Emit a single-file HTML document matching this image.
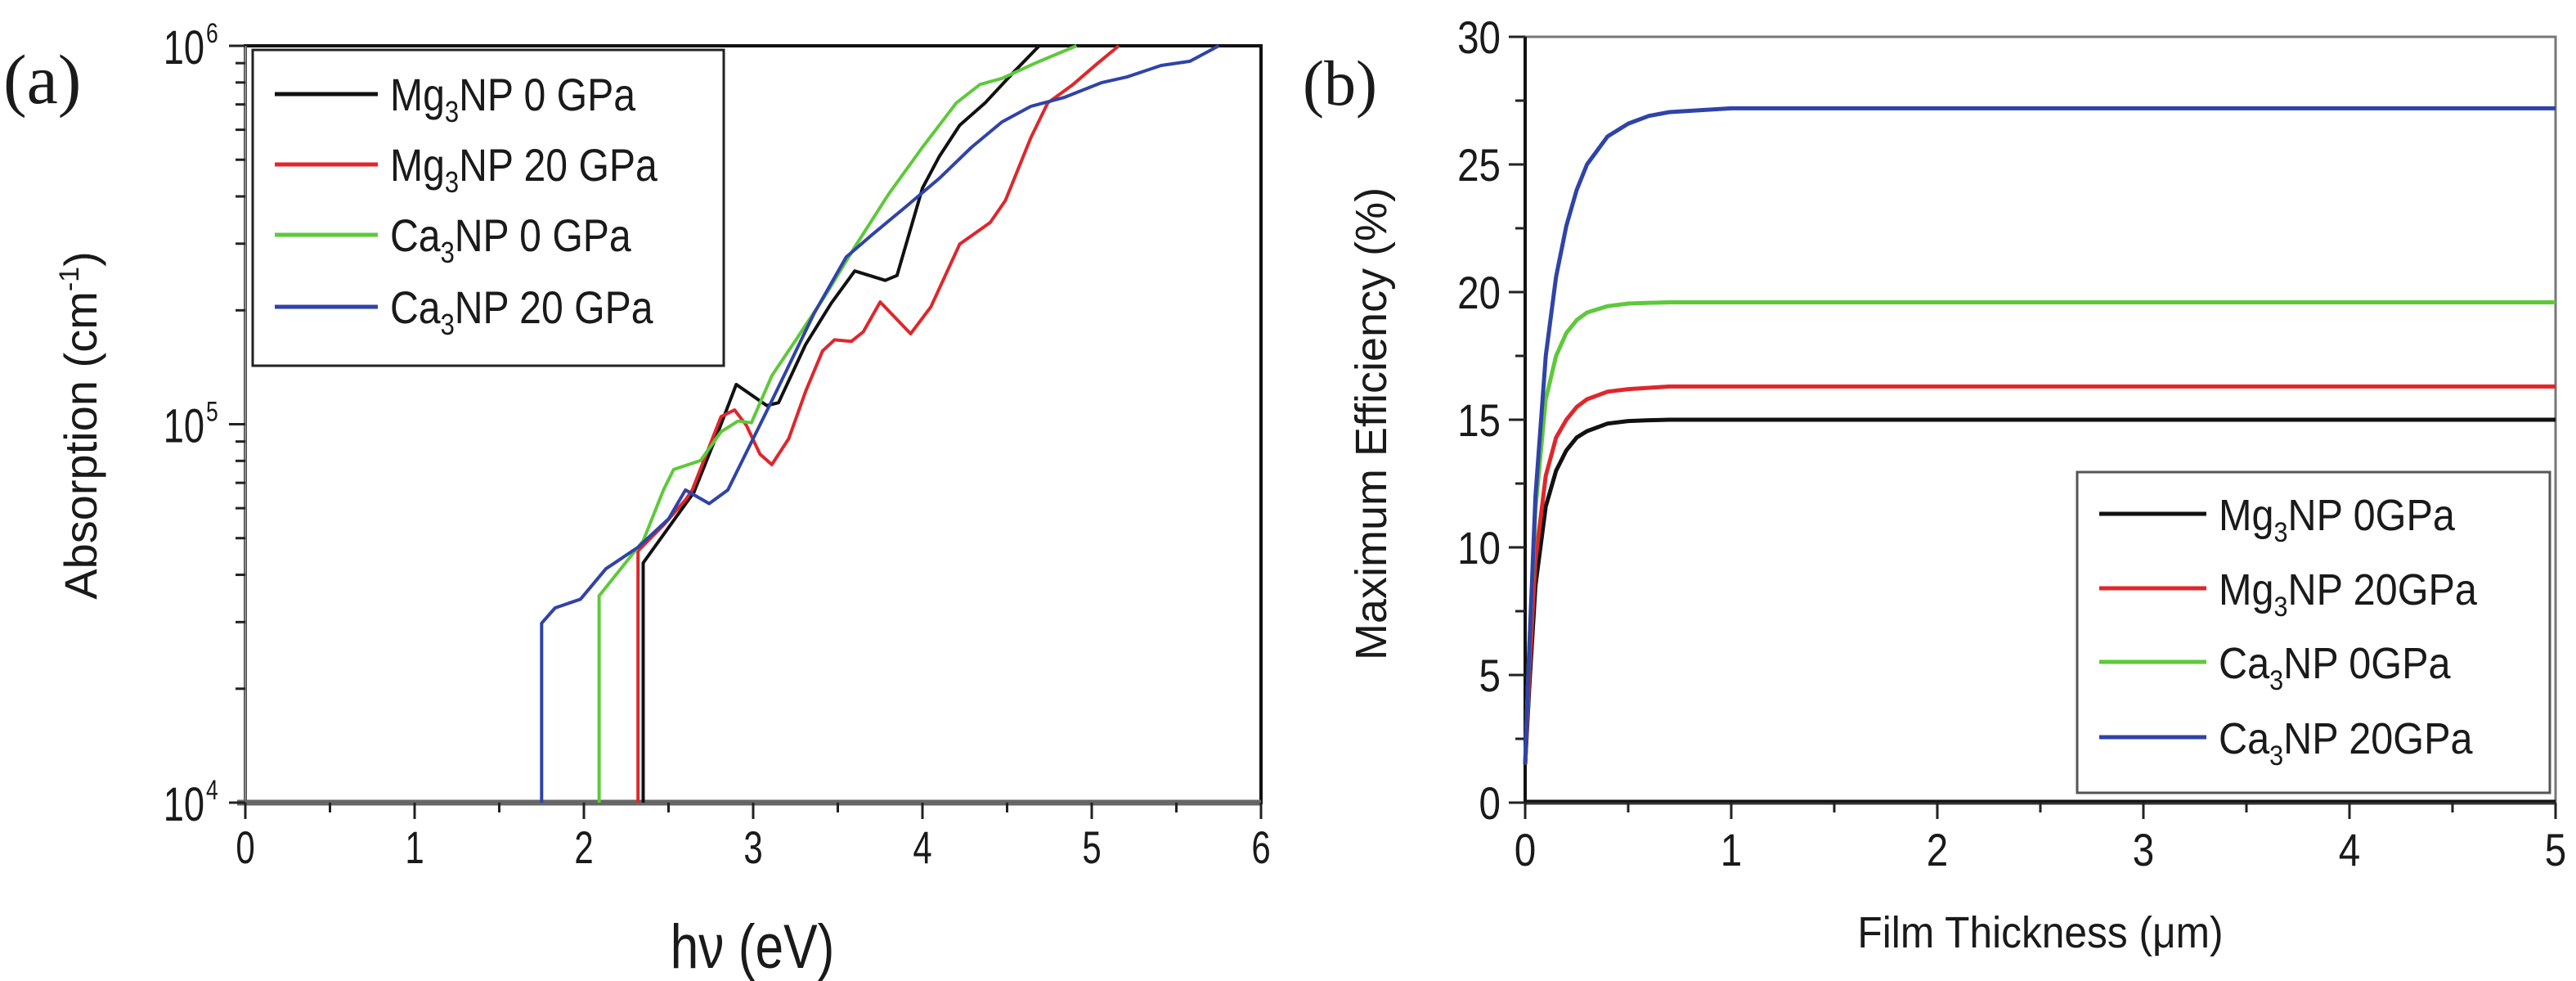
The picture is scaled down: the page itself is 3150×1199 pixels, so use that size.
<!DOCTYPE html>
<html><head><meta charset="utf-8"><style>
html,body{margin:0;padding:0;background:#fff;}
svg{display:block;}
text{font-family:"Liberation Sans",Arial,sans-serif;fill:#1a1a1a;}
</style></head><body>
<svg id="fig" width="3150" height="1199" viewBox="0 0 3150 1199" xmlns="http://www.w3.org/2000/svg">
<rect x="0" y="0" width="3150" height="1199" fill="#fff"/>
<g id="pa"></g>
<g id="pb"></g>
</svg>
<script>
// ---------- Panel (a) data ----------
const aXTicks = [0,1,2,3,4,5,6];
const aYTickExp = [4,5,6];
const aSeriesNames = ["Mg3NP 0 GPa","Mg3NP 20 GPa","Ca3NP 0 GPa","Ca3NP 20 GPa"];
const aColors = ["#111111","#e0262b","#5ec93a","#2f43a8"];
const mg0E = [2.35,2.35,2.65,2.80,2.90,3.08,3.15,3.31,3.46,3.60,3.78,3.85,4.00,4.10,4.22,4.37,4.54,4.69];
const mg0A = [10000,43000,66100,97300,127400,112000,114000,162600,208400,254100,239900,247200,420700,510500,616600,706300,853100,1000000];
const mg20E = [2.32,2.32,2.47,2.60,2.64,2.81,2.89,2.96,3.04,3.11,3.21,3.31,3.41,3.48,3.58,3.65,3.75,3.93,4.05,4.22,4.40,4.49,4.64,4.74,4.89,5.03,5.16];
const mg20A = [10000,46300,54100,63100,67000,104700,109100,99300,83400,78200,91600,122200,156300,167100,165600,175400,210400,173400,204200,299200,341200,390000,571500,706300,790700,895400,1000000];
const ca0E = [2.09,2.09,2.35,2.47,2.53,2.69,2.81,2.91,2.99,3.11,3.26,3.43,3.60,3.80,4.00,4.20,4.34,4.47,4.67,4.91];
const ca0A = [10000,35200,49200,67000,75900,80200,95500,101900,100900,134300,169000,220300,293800,405500,539500,706300,790700,820300,901600,1000000];
const ca20E = [1.75,1.75,1.83,1.98,2.13,2.32,2.50,2.60,2.74,2.85,3.11,3.36,3.55,3.70,3.90,4.10,4.29,4.47,4.64,4.84,5.06,5.21,5.41,5.58,5.75];
const ca20A = [10000,29800,32700,34500,41500,47300,56200,67000,61700,67000,115300,196300,276700,316200,375000,446700,539500,629500,691800,731100,799800,827900,887200,910000,1000000];

// ---------- Panel (b) data ----------
const bXTicks = [0,1,2,3,4,5];
const bYTicks = [0,5,10,15,20,25,30];
const bNames = ["Mg3NP 0GPa","Mg3NP 20GPa","Ca3NP 0GPa","Ca3NP 20GPa"];
const bT = [0,0.02,0.05,0.1,0.15,0.2,0.25,0.3,0.4,0.5,0.6,0.7,1,2,3,4,5];
const bMg0 = [1.5,4.5,8.5,11.6,13.0,13.8,14.3,14.55,14.85,14.95,14.98,15,15,15,15,15,15];
const bMg20 = [1.5,5,9.5,12.8,14.3,15.0,15.5,15.8,16.1,16.2,16.25,16.3,16.3,16.3,16.3,16.3,16.3];
const bCa0 = [1.5,6,11.5,15.8,17.5,18.4,18.9,19.2,19.45,19.55,19.58,19.6,19.6,19.6,19.6,19.6,19.6];
const bCa20 = [1.5,6,12,17.5,20.6,22.6,24.0,25.0,26.1,26.6,26.9,27.05,27.2,27.2,27.2,27.2,27.2];

const NS="http://www.w3.org/2000/svg";
function mk(tag,parent,attrs){const e=document.createElementNS(NS,tag);for(const k in attrs)e.setAttribute(k,attrs[k]);parent.appendChild(e);return e;}

// ===== Panel A =====
const pa=document.getElementById('pa');
const aL=300,aR=1542,aT=56,aB=981;
const ax=e=>aL+(aR-aL)*e/6;
const ay=v=>aB-(Math.log10(v)-4)*(aB-aT)/2;
let fr=mk('rect',pa,{x:aL,y:aT,width:aR-aL,height:aB-aT,fill:'none',stroke:'#111',"stroke-width":4});

let la=mk('line',pa,{x1:aL,y1:aT,x2:aL,y2:aB,stroke:'#888',"stroke-width":3});

let ba=mk('line',pa,{x1:aL-10,y1:aB,x2:aR,y2:aB,stroke:'#666',"stroke-width":7});

for(let i=0;i<=12;i++){const e=i/2;const maj=i%2==0;
 let t=mk('line',pa,{x1:ax(e),y1:aB,x2:ax(e),y2:aB+(maj?20:12),stroke:'#222',"stroke-width":3});
 }
aXTicks.forEach(v=>{let t=mk('text',pa,{x:0,y:0,"font-size":56,"text-anchor":"middle",transform:`translate(${ax(v)},1055) scale(0.75,1)`});t.textContent=v;
 });
aYTickExp.forEach((p,i)=>{
 let y=ay(Math.pow(10,p));
 let t=mk('line',pa,{x1:aL-20,y1:y,x2:aL,y2:y,stroke:'#222',"stroke-width":3});
 
 let g=mk('text',pa,{x:0,y:0,"font-size":58,"text-anchor":"end",transform:`translate(${aL-50},${y+22}) scale(0.78,1)`});
 g.textContent='10';
 let s=mk('text',pa,{x:0,y:0,"font-size":34,transform:`translate(${aL-48},${y-4}) scale(0.78,1)`});
 s.textContent=p;
 if(i<2){for(let m=2;m<=9;m++){let ym=ay(m*Math.pow(10,p));
  let mt=mk('line',pa,{x1:aL-12,y1:ym,x2:aL,y2:ym,stroke:'#222',"stroke-width":3});
  }}
});
[[mg0E,mg0A],[mg20E,mg20A],[ca0E,ca0A],[ca20E,ca20A]].forEach((s,k)=>{
 const pts=s[0].map((e,i)=>ax(e).toFixed(1)+','+ay(s[1][i]).toFixed(1)).join(' ');
 let pl=mk('polyline',pa,{points:pts,fill:'none',stroke:aColors[k],"stroke-width":4,"stroke-linejoin":"round"});
 
});
let lgA=mk('rect',pa,{x:309,y:61,width:576,height:386,fill:'#fff',stroke:'#222',"stroke-width":3});

const aLegY=[115,201,287,375];
aSeriesNames.forEach((n,k)=>{
 let l=mk('line',pa,{x1:336,y1:aLegY[k],x2:462,y2:aLegY[k],stroke:aColors[k],"stroke-width":5});
 
 let t=mk('text',pa,{x:0,y:0,"font-size":56,transform:`translate(477,${aLegY[k]+20}) scale(0.86,1)`});
 const parts=n.split('3');
 t.innerHTML=parts[0]+'<tspan dy="14" font-size="36">3</tspan><tspan dy="-14">'+parts[1]+'</tspan>';
 
});
let ta=mk('text',pa,{x:0,y:0,"font-size":56,"text-anchor":"middle",transform:'translate(118,520) rotate(-90)'});
ta.innerHTML='Absorption (cm<tspan dy="-22" font-size="34">-1</tspan><tspan dy="22">)</tspan>';

let xa=mk('text',pa,{x:0,y:0,"font-size":76,"text-anchor":"middle",transform:'translate(920,1183) scale(0.82,1)'});
xa.textContent='hν (eV)';
let lbA=mk('text',pa,{x:4,y:126,"font-size":86,style:'font-family:"Liberation Serif",serif'});
lbA.textContent='(a)';

// ===== Panel B =====
const pb=document.getElementById('pb');
const bL=1865,bR=3125,bTp=45,bB=981;
const bx=t=>bL+(bR-bL)*t/5;
const by=v=>bB-(bB-bTp)*v/30;
let frb=mk('rect',pb,{x:bL,y:bTp,width:bR-bL,height:bB-bTp,fill:'none',stroke:'#777',"stroke-width":3});

let lb=mk('line',pb,{x1:bL,y1:bTp,x2:bL,y2:bB,stroke:'#111',"stroke-width":4});

let bb=mk('line',pb,{x1:bL,y1:bB,x2:bR,y2:bB,stroke:'#333',"stroke-width":5});

for(let i=0;i<=10;i++){const t=i/2,maj=i%2==0;
 let k=mk('line',pb,{x1:bx(t),y1:bB,x2:bx(t),y2:bB+(maj?20:12),stroke:'#222',"stroke-width":3});
 }
bXTicks.forEach(v=>{let t=mk('text',pb,{x:0,y:0,"font-size":56,"text-anchor":"middle",transform:`translate(${bx(v)},1058) scale(0.85,1)`});
 t.textContent=v;});
for(let i=0;i<=12;i++){const v=i*2.5,maj=i%2==0;
 let k=mk('line',pb,{x1:bL-(maj?20:12),y1:by(v),x2:bL,y2:by(v),stroke:'#222',"stroke-width":3});
 }
bYTicks.forEach(v=>{let t=mk('text',pb,{x:0,y:0,"font-size":56,"text-anchor":"end",transform:`translate(${bL-30},${by(v)+20}) scale(0.85,1)`});
 t.textContent=v;});
let zl=mk('line',pb,{x1:bL,y1:by(0)-2,x2:bR,y2:by(0)-2,stroke:'#111',"stroke-width":3});

[bMg0,bMg20,bCa0,bCa20].forEach((s,k)=>{
 const pts=bT.map((t,i)=>bx(t).toFixed(1)+','+by(s[i]).toFixed(1)).join(' ');
 let pl=mk('polyline',pb,{points:pts,fill:'none',stroke:aColors[k],"stroke-width":5,"stroke-linejoin":"round"});
 
});
let lgB=mk('rect',pb,{x:2540,y:577,width:578,height:392,fill:'#fff',stroke:'#555',"stroke-width":3});

const bLegY=[628,719,809,901];
bNames.forEach((n,k)=>{
 let l=mk('line',pb,{x1:2567,y1:bLegY[k],x2:2698,y2:bLegY[k],stroke:aColors[k],"stroke-width":5});
 
 let t=mk('text',pb,{x:0,y:0,"font-size":54,transform:`translate(2713,${bLegY[k]+20}) scale(0.9,1)`});
 const parts=n.split('3');
 t.innerHTML=parts[0]+'<tspan dy="14" font-size="34">3</tspan><tspan dy="-14">'+parts[1]+'</tspan>';
 
});
let tb=mk('text',pb,{x:0,y:0,"font-size":54,"text-anchor":"middle",transform:'translate(1695,518) rotate(-90)'});
tb.textContent='Maximum Efficiency (%)';
let xb=mk('text',pb,{x:0,y:0,"font-size":54,"text-anchor":"middle",transform:'translate(2495,1158) scale(0.92,1)'});
xb.textContent='Film Thickness (μm)';
let lbB=mk('text',pb,{x:1593,y:128,"font-size":78,style:'font-family:"Liberation Serif",serif'});
lbB.textContent='(b)';
</script>
</body></html>
